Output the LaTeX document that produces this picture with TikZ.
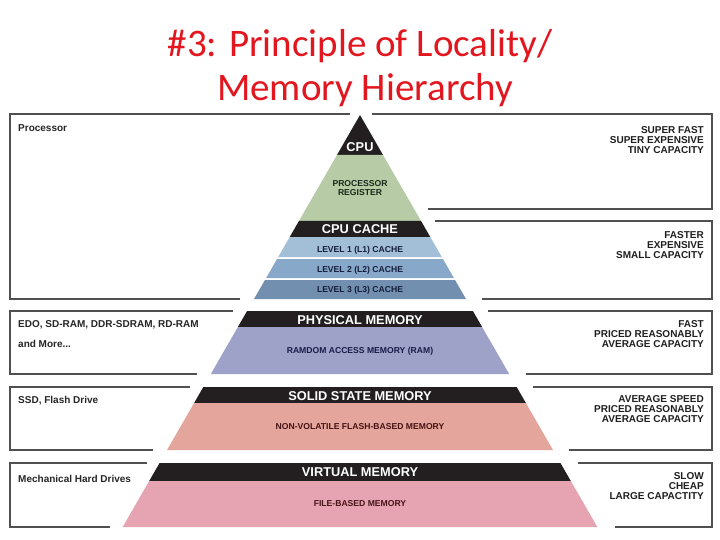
\documentclass[tikz,border=0pt]{standalone}
\usepackage{fontspec}
\setmainfont{Liberation Sans}
\newfontfamily\titlefont{Carlito}
\definecolor{bandblack}{RGB}{35,31,32}
\definecolor{regreen}{RGB}{183,204,166}
\definecolor{lone}{RGB}{163,191,216}
\definecolor{ltwo}{RGB}{136,168,202}
\definecolor{lthree}{RGB}{115,143,176}
\definecolor{ramblue}{RGB}{158,162,200}
\definecolor{ssdsalmon}{RGB}{228,166,156}
\definecolor{vmpink}{RGB}{230,163,177}
\definecolor{titlered}{RGB}{226,22,30}
\definecolor{boxline}{RGB}{80,80,80}
\newcommand\pyrband[3]{%
  \pgfmathsetmacro\pyrHa{(#1-115)*0.576}%
  \pgfmathsetmacro\pyrHb{(#2-115)*0.576}%
  \fill[#3] ({360-\pyrHa},#1) -- ({360+\pyrHa},#1) -- ({360+\pyrHb},#2) -- ({360-\pyrHb},#2) -- cycle;}
\tikzset{
  boxedge/.style={draw=boxline, line width=1.2pt},
  bandtitle/.style={anchor=base, inner sep=0pt, text=white, font=\bfseries\fontsize{12.8}{14}\selectfont},
  bandsub/.style={anchor=base, inner sep=0pt, font=\bfseries\fontsize{8.6}{10}\selectfont},
  lefttext/.style={anchor=base west, inner sep=0pt, text=black!85, font=\bfseries\fontsize{10}{12}\selectfont},
  righttext/.style={anchor=base east, inner sep=0pt, text=black!88, font=\bfseries\fontsize{10}{12}\selectfont},
  titletext/.style={anchor=base, inner sep=0pt, text=titlered, font=\titlefont\fontsize{39}{44}\selectfont}
}
\begin{document}
\begin{tikzpicture}[x=1pt, y=-1pt]
\useasboundingbox (0,0) rectangle (720,540);
\fill[white] (0,0) rectangle (720,540);
% title
\node[titletext] (t1) at (360,57) {\#3: Principle of Locality/};
\node[titletext] (t2) at (365,100.5) {Memory Hierarchy};
% pyramid bands
\pyrband{115}{155}{bandblack}
\pyrband{155}{221}{regreen}
\pyrband{221}{237}{bandblack}
\pyrband{237}{257}{lone}
\pyrband{259}{278}{ltwo}
\pyrband{280}{299}{lthree}
\pyrband{311}{327}{bandblack}
\pyrband{327}{374}{ramblue}
\pyrband{387}{403}{bandblack}
\pyrband{403}{450}{ssdsalmon}
\pyrband{463}{481}{bandblack}
\pyrband{481}{527}{vmpink}
% left boxes
\draw[boxedge] (350,114) -- (10,114) -- (10,299) -- (240,299);
\draw[boxedge] (233,311) -- (10,311) -- (10,374) -- (197,374);
\draw[boxedge] (190,387) -- (10,387) -- (10,450) -- (153,450);
\draw[boxedge] (147,463) -- (10,463) -- (10,527) -- (110,527);
% right boxes
\draw[boxedge] (372,114) -- (712,114) -- (712,209) -- (428,209);
\draw[boxedge] (435,221) -- (712,221) -- (712,299) -- (482,299);
\draw[boxedge] (488,311) -- (712,311) -- (712,374) -- (526,374);
\draw[boxedge] (533,387) -- (712,387) -- (712,450) -- (569,450);
\draw[boxedge] (578,463) -- (712,463) -- (712,527) -- (615,527);
% pyramid labels
\node[bandtitle] (cpu) at (360,152) {CPU};
\node[bandsub, text={rgb,255:red,25;green,40;blue,25}] (reg1) at (360,187) {PROCESSOR};
\node[bandsub, text={rgb,255:red,25;green,40;blue,25}] (reg2) at (360,195.5) {REGISTER};
\node[bandtitle] (cache) at (360,233.3) {CPU CACHE};
\node[bandsub, text={rgb,255:red,20;green,30;blue,60}] (l1) at (360,252.3) {LEVEL 1 (L1) CACHE};
\node[bandsub, text={rgb,255:red,20;green,30;blue,60}] (l2) at (360,272.3) {LEVEL 2 (L2) CACHE};
\node[bandsub, text={rgb,255:red,20;green,30;blue,60}] (l3) at (360,292.3) {LEVEL 3 (L3) CACHE};
\node[bandtitle] (phys) at (360,324) {PHYSICAL MEMORY};
\node[bandsub, text={rgb,255:red,25;green,28;blue,70}] (ram) at (360,353.3) {RAMDOM ACCESS MEMORY (RAM)};
\node[bandtitle] (ssd) at (360,400) {SOLID STATE MEMORY};
\node[bandsub, text={rgb,255:red,70;green,18;blue,18}] (flash) at (360,429.3) {NON-VOLATILE FLASH-BASED MEMORY};
\node[bandtitle] (virt) at (360,476.7) {VIRTUAL MEMORY};
\node[bandsub, text={rgb,255:red,70;green,20;blue,25}] (file) at (360,506) {FILE-BASED MEMORY};
% left texts
\node[lefttext] (lp) at (18,132) {Processor};
\node[lefttext] (le1) at (18,327.5) {EDO, SD-RAM, DDR-SDRAM, RD-RAM};
\node[lefttext] (le2) at (18,347.5) {and More...};
\node[lefttext] (ls) at (18,403.3) {SSD, Flash Drive};
\node[lefttext] (lm) at (18,482) {Mechanical Hard Drives};
% right texts
\node[righttext] (r1a) at (704,133.3) {SUPER FAST};
\node[righttext] (r1b) at (704,143.3) {SUPER EXPENSIVE};
\node[righttext] (r1c) at (704,153.3) {TINY CAPACITY};
\node[righttext] (r2a) at (704,238.3) {FASTER};
\node[righttext] (r2b) at (704,248.3) {EXPENSIVE};
\node[righttext] (r2c) at (704,258.3) {SMALL CAPACITY};
\node[righttext] (r3a) at (704,327.7) {FAST};
\node[righttext] (r3b) at (704,337.7) {PRICED REASONABLY};
\node[righttext] (r3c) at (704,347.7) {AVERAGE CAPACITY};
\node[righttext] (r4a) at (704,402.7) {AVERAGE SPEED};
\node[righttext] (r4b) at (704,412.7) {PRICED REASONABLY};
\node[righttext] (r4c) at (704,422.7) {AVERAGE CAPACITY};
\node[righttext] (r5a) at (704,479.3) {SLOW};
\node[righttext] (r5b) at (704,489.3) {CHEAP};
\node[righttext] (r5c) at (704,499.3) {LARGE CAPACTITY};
\end{tikzpicture}
\end{document}
